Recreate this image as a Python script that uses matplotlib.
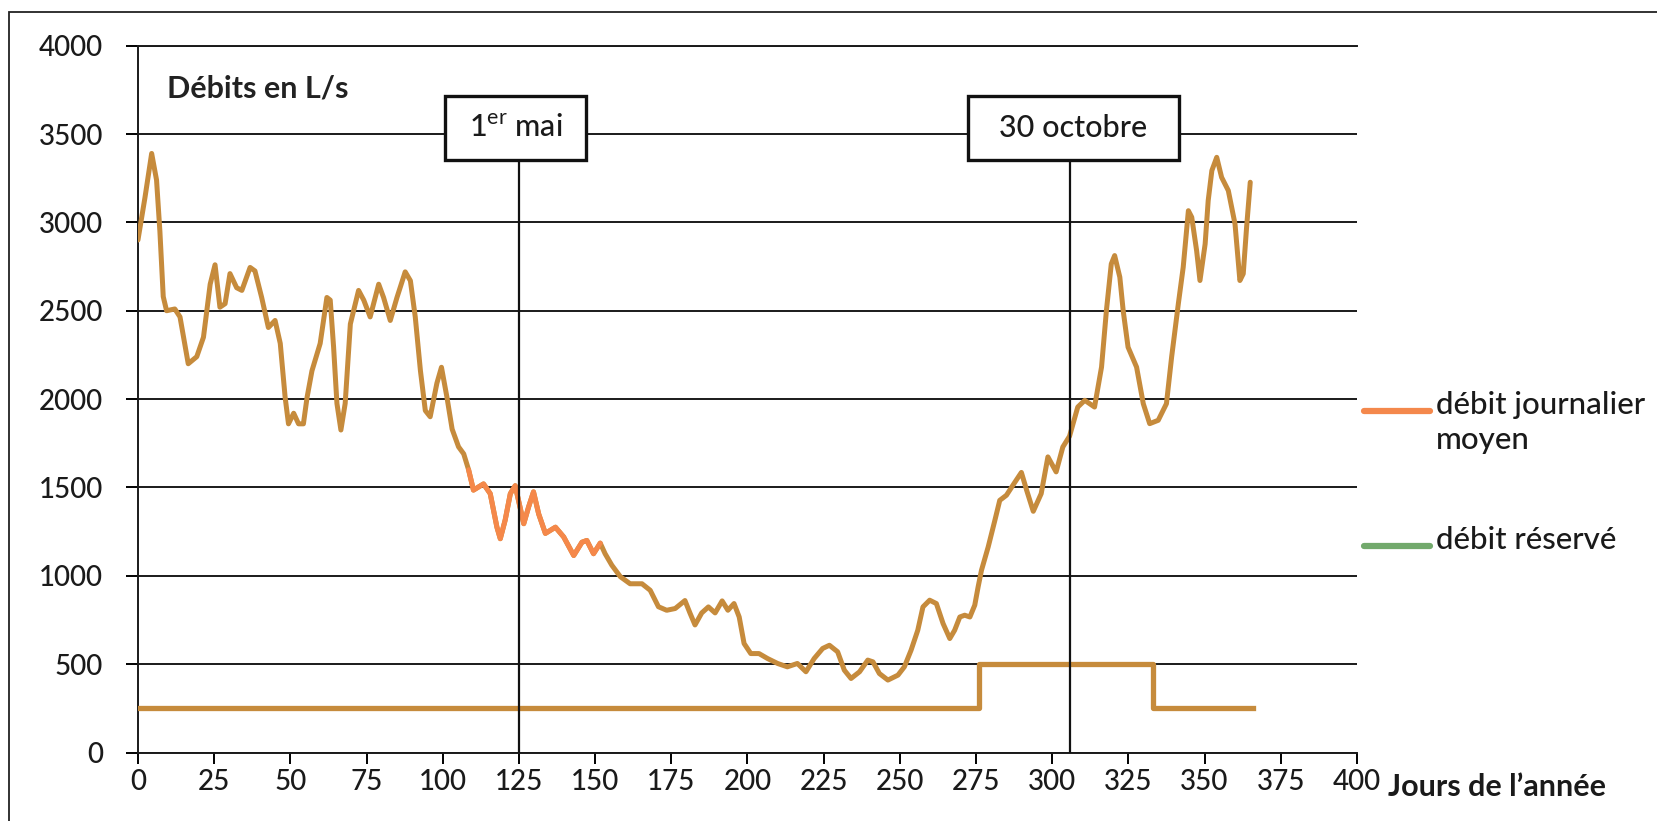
import matplotlib
matplotlib.use('Agg')
import matplotlib.pyplot as plt
from matplotlib.lines import Line2D
from matplotlib.patches import Rectangle
import numpy as np

plt.rcParams['font.family'] = ['Lato', 'DejaVu Sans']
plt.rcParams['mathtext.fontset'] = 'custom'
plt.rcParams['mathtext.rm'] = 'Lato'

# daily mean flow (L/s)
days = [0, 2.3, 4.5, 6.1, 7.2, 8.3, 9.4, 12.1, 13.8, 16.5, 19.3, 21.5, 23.7, 25.3,
        26.9, 28.6, 30.2, 32.4, 34.1, 36.8, 38.4, 40.6, 42.8, 45.0, 46.7, 48.3,
        49.4, 51.1, 52.7, 54.3, 55.5, 57.1, 59.8, 62.0, 63.1, 64.2, 65.3, 66.6,
        68.0, 69.7, 72.4, 74.1, 76.2, 79.0, 80.6, 82.8, 85.0, 87.7, 89.4, 91.0,
        92.7, 94.3, 95.9, 98.1, 99.6, 101.4, 103.1, 105.2, 106.9, 108.5, 110.1,
        113.4, 115.6, 117.8, 118.9, 120.5, 122.2, 123.8, 124.9, 126.6, 128.2,
        129.8, 131.5, 133.7, 137.0, 139.7, 143.0, 145.7, 147.3, 149.5, 151.7,
        153.3, 155.5, 158.3, 161.5, 165.4, 168.1, 170.8, 173.5, 176.3, 179.5,
        181.2, 182.8, 185.0, 187.2, 189.4, 191.7, 193.6, 195.6, 197.3, 198.9,
        201.1, 203.8, 206.6, 209.9, 213.1, 216.4, 219.2, 221.9, 224.7, 226.9,
        229.6, 231.8, 234.0, 236.8, 239.5, 241.2, 243.3, 246.1, 249.4, 251.5,
        253.7, 255.9, 257.6, 259.8, 262.0, 264.2, 266.4, 268.0, 269.7, 271.3,
        273.0, 274.6, 275.7, 276.8, 279.0, 281.2, 282.8, 285.0, 287.4, 289.9,
        291.7, 293.8, 296.4, 298.6, 301.3, 303.5, 305.7, 308.4, 310.7, 313.9,
        316.2, 317.8, 319.4, 320.5, 322.2, 323.3, 324.9, 327.7, 329.9, 332.0,
        334.8, 337.5, 339.2, 341.4, 343.0, 344.7, 345.8, 347.4, 348.5, 350.2,
        351.2, 352.4, 354.0, 355.6, 357.8, 360.0, 361.6, 362.7, 363.8, 365.0]
flow = [2900, 3140, 3390, 3240, 2950, 2580, 2500, 2510, 2465, 2200, 2240, 2350, 2650, 2760,
        2520, 2540, 2710, 2630, 2615, 2745, 2725, 2575, 2405, 2445, 2315, 2010,
        1860, 1920, 1860, 1860, 2010, 2160, 2315, 2575, 2560, 2295, 1975, 1825,
        1975, 2425, 2615, 2560, 2465, 2650, 2575, 2445, 2575, 2720, 2670, 2465,
        2160, 1935, 1900, 2090, 2180, 2010, 1830, 1730, 1690, 1600, 1485,
        1520, 1465, 1275, 1210, 1315, 1465, 1510, 1425, 1295, 1390,
        1475, 1350, 1240, 1275, 1220, 1115, 1190, 1200, 1125, 1185,
        1125, 1060, 995, 955, 955, 918, 825, 805, 815, 860,
        787, 722, 790, 824, 790, 858, 805, 843, 767, 617,
        560, 560, 532, 504, 485, 504, 457, 532, 589, 607,
        570, 466, 419, 457, 523, 513, 447, 410, 438, 485,
        579, 692, 824, 862, 843, 730, 645, 692, 767, 777,
        767, 834, 937, 1031, 1163, 1314, 1427, 1456, 1520, 1585,
        1480, 1365, 1465, 1673, 1588, 1729, 1790, 1955, 1993, 1955,
        2181, 2501, 2765, 2812, 2690, 2501, 2294, 2181, 1974, 1861,
        1880, 1974, 2238, 2539, 2746, 3066, 3029, 2840, 2671, 2878,
        3123, 3293, 3368, 3255, 3180, 2991, 2671, 2709, 2972, 3227]

# reserved flow steps (L/s)
res_days = [0, 276, 333, 366]
res_flow = [250, 500, 250, 250]

markers = [125, 306]
marker_labels = [r'1$^{\mathrm{er}}$ mai', '30 octobre']

xticks = np.arange(0, 401, 25)
yticks = np.arange(0, 4001, 500)

tan = '#c68b3c'
orange = '#f5884a'
ink = '#1a1a1a'

fig = plt.figure(figsize=(16.58, 8.21), dpi=100)
ax = fig.add_axes([0.0832, 0.0834, 0.7352, 0.861])

days_a = np.array(days)
flow_a = np.array(flow)
ax.plot(days_a, flow_a, color=tan, lw=3.6, zorder=3, solid_capstyle='round',
        solid_joinstyle='round')
seg = (days_a >= 108) & (days_a <= 152)
ax.plot(days_a[seg], flow_a[seg], color=orange, lw=3.6, zorder=4, solid_capstyle='round',
        solid_joinstyle='round')
ax.plot(res_days, res_flow, color=tan, lw=3.8, drawstyle='steps-post', zorder=3)

ax.set_xlim(0, 400)
ax.set_ylim(0, 4000)
ax.set_xticks(xticks)
ax.set_yticks(yticks)
ax.yaxis.grid(True, color=ink, lw=1.4)
ax.set_axisbelow(True)
ax.spines['right'].set_visible(False)
for s in ['left', 'bottom', 'top']:
    ax.spines[s].set_color(ink)
    ax.spines[s].set_linewidth(1.4)
ax.tick_params(axis='y', direction='out', length=9, width=1.4, pad=16, labelsize=20,
               labelcolor=ink)
ax.tick_params(axis='x', direction='out', length=8, width=1.4, pad=4, labelsize=20,
               labelcolor=ink)
for lab in ax.get_xticklabels() + ax.get_yticklabels():
    lab.set_fontweight('medium')

# date markers with boxes
box_y, box_h = 3536, 362
box_w = [46, 69]
box_cx = [123.9, 307]
ax.vlines(markers, 0, box_y - box_h / 2, color='#111111', lw=1.6, zorder=5)
for cx, w, lab in zip(box_cx, box_w, marker_labels):
    ax.add_patch(Rectangle((cx - w / 2, box_y - box_h / 2), w, box_h, facecolor='white',
                           edgecolor='#111111', lw=2.4, zorder=6))
    ax.text(cx, box_y, lab, ha='center', va='center', fontsize=22, fontweight='medium',
            color=ink, zorder=7)

ax.text(9.5, 3757, 'Débits en L/s', fontsize=22, fontweight='bold', color='#222222',
        ha='left', va='center')

fig.text(1388 / 1658, 1 - 787 / 821, 'Jours de l’année', fontsize=22, fontweight='bold',
         color=ink, ha='left', va='center')

# legend drawn by hand so the handle sits on the first text line
leg_labels = ['débit journalier\nmoyen', 'débit réservé']
leg_colors = ['#f4884c', '#72a96c']
leg_y = [411, 546]
for lab, col, y in zip(leg_labels, leg_colors, leg_y):
    fy = 1 - y / 821
    fig.add_artist(Line2D([1364 / 1658, 1430 / 1658], [fy, fy], color=col, lw=4.5,
                          solid_capstyle='round'))
    fig.text(1436 / 1658, 1 - (y - 20) / 821, lab, fontsize=22.5, fontweight='medium',
             color=ink, ha='left', va='top', linespacing=1.3)

# outer frame of the scanned chart
fig.add_artist(Rectangle((9 / 1658, -0.1), 1.2, 1 - 12 / 821 + 0.1, transform=fig.transFigure,
                         fill=False, edgecolor='#222222', lw=1.3))

fig.savefig('out.png', dpi=100)
